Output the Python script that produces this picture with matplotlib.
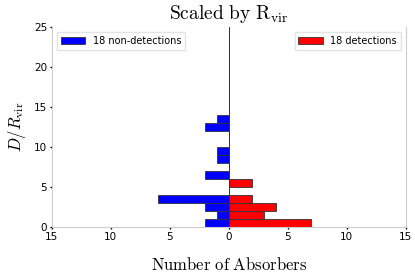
import matplotlib
matplotlib.use("Agg")
import matplotlib.pyplot as plt
import numpy as np

plt.rcParams['mathtext.fontset'] = 'cm'

# D/Rvir bin edges (lower edges, width 1)
bins = np.arange(0, 25)
non_det = [2, 1, 2, 6, 0, 0, 2, 0, 1, 1, 0, 0, 2, 1] + [0] * 11
det = [7, 3, 4, 2, 0, 2, 0, 0, 0, 0, 0, 0, 0, 0] + [0] * 11
xticks = [-15, -10, -5, 0, 5, 10, 15]
xticklabels = ['15', '10', '5', '0', '5', '10', '15']
yticks = [0, 5, 10, 15, 20, 25]

fig = plt.figure(figsize=(4.15, 2.77), dpi=100)
ax = fig.add_axes([0.125, 0.18, 0.853, 0.7225])

b1 = ax.barh(bins, -np.array(non_det), height=1, align='edge', color='blue',
             edgecolor='#333333', linewidth=0.6, label='18 non-detections')
b2 = ax.barh(bins, det, height=1, align='edge', color='red',
             edgecolor='#333333', linewidth=0.6, label='18 detections')
ax.axvline(0, color='#333333', lw=0.6)

ax.set_xlim(-15, 15)
ax.set_ylim(0, 25)
ax.set_xticks(xticks)
ax.set_xticklabels(xticklabels)
ax.set_yticks(yticks)
ax.tick_params(length=1.5, width=1, labelsize=7.5, pad=2, color='black')

for s in ['left', 'bottom', 'right']:
    ax.spines[s].set_color('#cccccc')
    ax.spines[s].set_linewidth(0.8)
ax.spines['top'].set_visible(False)

ax.set_title(r'$\mathrm{Scaled\ by\ R_{vir}}$', fontsize=14, pad=6)
ax.set_xlabel(r'$\mathrm{Number\ of\ Absorbers}$', fontsize=12, labelpad=10)
ax.set_ylabel(r'$D/R_{\rm vir}$', fontsize=12, labelpad=4)

leg1 = ax.legend(handles=[b1], loc='upper left', fontsize=7, frameon=True,
                 fancybox=False, edgecolor='#dddddd', handlelength=2.5)
ax.add_artist(leg1)
ax.legend(handles=[b2], loc='upper right', fontsize=7, frameon=True,
          fancybox=False, edgecolor='#dddddd', handlelength=2.5)

fig.savefig('out.png', dpi=100)
